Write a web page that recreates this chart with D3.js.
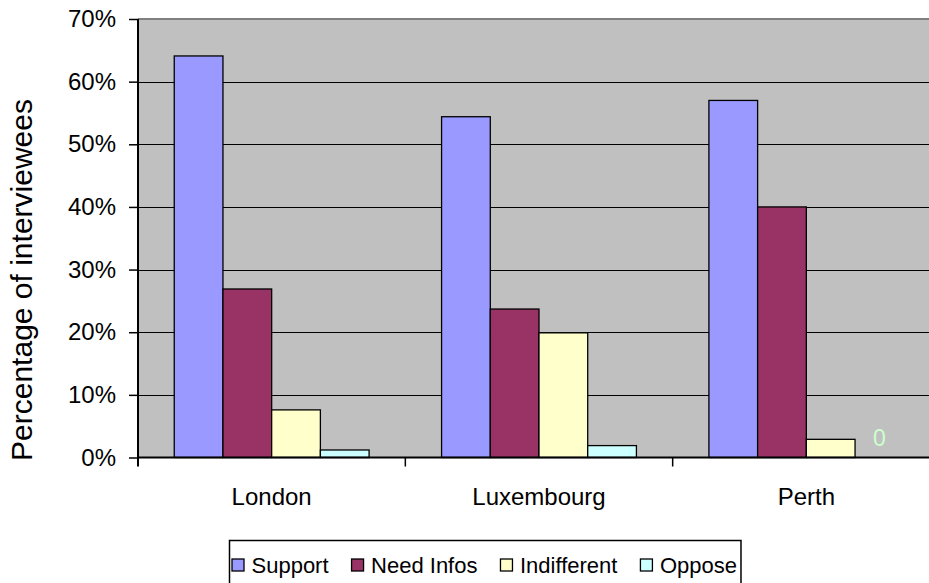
<!DOCTYPE html>
<html>
<head>
<meta charset="utf-8">
<script src="https://cdn.jsdelivr.net/npm/d3@7"></script>
<style>
  html, body { margin: 0; padding: 0; background: #fff; }
  svg { display: block; font-family: "Liberation Sans", Arial, sans-serif; }
</style>
</head>
<body>
<svg id="chart" width="929" height="583"></svg>
<script>
// Survey results by city
const cities = ["London", "Luxembourg", "Perth"];
const seriesNames = ["Support", "Need Infos", "Indifferent", "Oppose"];
const seriesColors = ["#9999ff", "#993366", "#ffffcc", "#ccffff"];
const support = [0.641, 0.544, 0.570];
const needInfos = [0.269, 0.237, 0.400];
const indifferent = [0.076, 0.199, 0.029];
const oppose = [0.012, 0.019, 0.000];
const yTicks = [0, 0.1, 0.2, 0.3, 0.4, 0.5, 0.6, 0.7];
const yTitle = "Percentage of interviewees";

const seriesValues = [support, needInfos, indifferent, oppose];

const svg = d3.select("#chart");
const W = 929, H = 583;
const plot = { left: 138, top: 19, bottom: 457.5, right: 940 };

const x0 = d3.scaleBand().domain(cities).range([plot.left, plot.right]).paddingInner(0).paddingOuter(0);
const x1 = d3.scaleBand().domain(seriesNames).range([0, x0.bandwidth()]).paddingInner(0).paddingOuter(0.744);
const y = d3.scaleLinear().domain([0, 0.7]).range([plot.bottom, plot.top]);

// clip the plot area at the page edge
svg.append("defs").append("clipPath").attr("id", "clip")
  .append("rect").attr("x", 0).attr("y", 0).attr("width", W).attr("height", H);

const g = svg.append("g").attr("clip-path", "url(#clip)");

// plot background
g.append("rect")
  .attr("x", plot.left).attr("y", y(0.7))
  .attr("width", plot.right - plot.left).attr("height", y(0) - y(0.7))
  .attr("fill", "#c0c0c0");

// horizontal gridlines
g.append("g").selectAll("line").data(yTicks.filter(d => d > 0 && d < 0.7)).join("line")
  .attr("x1", plot.left).attr("x2", plot.right)
  .attr("y1", d => Math.round(y(d)) + 0.5).attr("y2", d => Math.round(y(d)) + 0.5)
  .attr("stroke", "#000").attr("stroke-width", 1);

// top border of plot area
g.append("line")
  .attr("x1", plot.left).attr("x2", plot.right)
  .attr("y1", y(0.7)).attr("y2", y(0.7))
  .attr("stroke", "#808080").attr("stroke-width", 2);

// bars
const rows = cities.map((c, i) => ({ city: c, vals: seriesNames.map((s, j) => ({ name: s, value: seriesValues[j][i], color: seriesColors[j] })) }));
const groups = g.append("g").selectAll("g").data(rows).join("g")
  .attr("transform", d => `translate(${x0(d.city)},0)`);
groups.selectAll("rect").data(d => d.vals.filter(v => v.value > 0)).join("rect")
  .attr("x", d => x1(d.name))
  .attr("y", d => y(d.value))
  .attr("width", x1.bandwidth())
  .attr("height", d => y(0) - y(d.value))
  .attr("fill", d => d.color)
  .attr("stroke", "#000").attr("stroke-width", 1.3);

// zero value label
groups.selectAll("text.zero").data(d => d.vals.filter(v => v.value === 0)).join("text")
  .attr("class", "zero")
  .attr("x", d => x1(d.name) + x1.bandwidth() / 2)
  .attr("y", d => y(d.value) - 12)
  .attr("text-anchor", "middle")
  .attr("font-size", 23)
  .attr("fill", "#ccffcc")
  .text(d => d3.format("d")(d.value * 100));

// y axis
const yAxis = d3.axisLeft(y).tickValues(yTicks).tickFormat(d3.format(".0%")).tickSize(9).tickPadding(13);
const ya = svg.append("g").attr("transform", `translate(${plot.left},0)`).call(yAxis);
ya.select(".domain").remove();
ya.append("line").attr("x1", 0).attr("x2", 0).attr("y1", plot.top).attr("y2", plot.bottom + 9)
  .attr("stroke", "#000").attr("stroke-width", 2);
ya.selectAll(".tick line").attr("stroke", "#000").attr("stroke-width", 1.5);
ya.selectAll(".tick text").attr("font-size", 24).attr("fill", "#000").attr("font-family", "Liberation Sans, Arial, sans-serif");

// x axis
const xa = svg.append("g").attr("clip-path", "url(#clip)");
xa.append("line").attr("x1", plot.left).attr("x2", plot.right)
  .attr("y1", plot.bottom).attr("y2", plot.bottom).attr("stroke", "#000").attr("stroke-width", 2);
xa.selectAll("line.tk").data(cities.slice(1)).join("line").attr("class", "tk")
  .attr("x1", d => x0(d)).attr("x2", d => x0(d))
  .attr("y1", plot.bottom).attr("y2", plot.bottom + 9)
  .attr("stroke", "#000").attr("stroke-width", 1.5);
xa.selectAll("text").data(cities).join("text")
  .attr("x", d => x0(d) + x0.bandwidth() / 2)
  .attr("y", 505)
  .attr("text-anchor", "middle")
  .attr("font-size", 24)
  .text(d => d);

// y axis title
svg.append("text")
  .attr("transform", `translate(32,280) rotate(-90)`)
  .attr("text-anchor", "middle")
  .attr("font-size", 30)
  .text(yTitle);

// legend
const lg = svg.append("g");
const legendBox = lg.append("rect")
  .attr("x", 229.5).attr("y", 540.5).attr("height", 60)
  .attr("fill", "#fff").attr("stroke", "#000").attr("stroke-width", 1.5);
let lx = 232;
let lastEnd = lx;
seriesNames.forEach((name, i) => {
  lg.append("rect").attr("x", lx).attr("y", 559).attr("width", 12).attr("height", 12)
    .attr("fill", seriesColors[i]).attr("stroke", "#000").attr("stroke-width", 1.3);
  const t = lg.append("text").attr("x", lx + 19.5).attr("y", 573).attr("font-size", 22).text(name);
  lastEnd = lx + 19.5 + t.node().getComputedTextLength();
  lx = lastEnd + 23;
});
legendBox.attr("width", lastEnd + 4 - 229.5);
</script>
</body>
</html>
